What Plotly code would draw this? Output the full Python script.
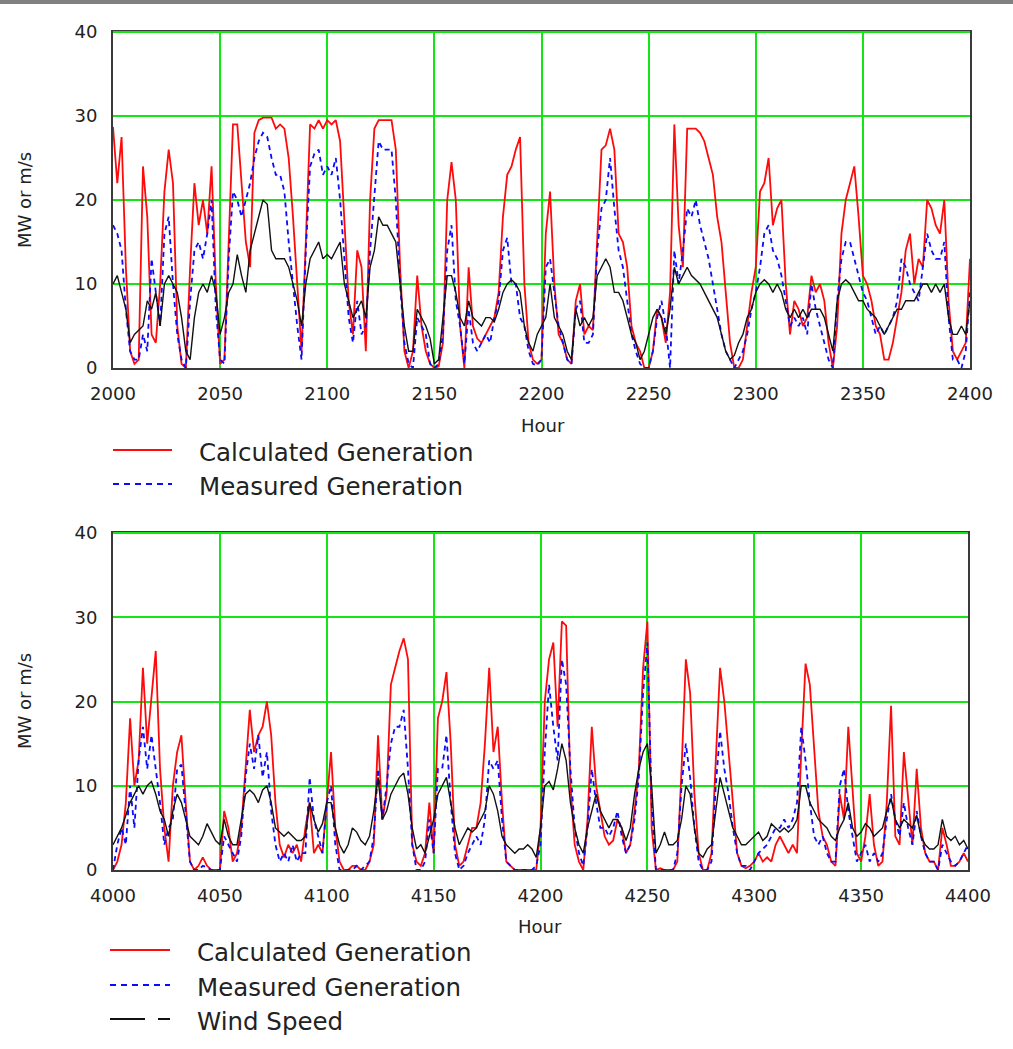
import plotly.graph_objects as go

W, H = 1013, 1049

# ---------------- data (2-hour resolution) ----------------
hours1 = list(range(2000, 2401, 2))
hours2 = list(range(4000, 4401, 2))

calc1 = [28.7, 22, 27.5, 12, 2, 0.5, 1, 24, 18, 4,
         3, 10, 21, 26, 22, 5, 0.5, 0, 12, 22,
         17, 20, 16, 24, 10, 0.5, 1, 15, 29, 29,
         22, 15, 12, 28, 29.5, 29.8, 29.8, 29.8, 28.5, 29,
         28.5, 25, 18, 10, 2, 15, 29, 28.5, 29.5, 28.5,
         29.5, 29, 29.5, 27, 17, 8, 4, 14, 12, 2,
         20, 28.5, 29.5, 29.5, 29.5, 29.5, 26, 12, 2, 0,
         2, 11, 5, 2, 0.5, 0, 0.2, 3, 20, 24.5,
         20, 5, 0, 12, 5, 3.5, 3, 4, 5, 6,
         9, 18, 23, 24, 26, 27.5, 10, 3, 1, 0.5,
         1, 16, 21, 10, 4, 3, 1, 0.5, 8, 10,
         4, 5, 4.5, 15, 26, 26.5, 28.5, 26, 16, 15,
         12, 5, 3, 2, 0, 0, 2, 7, 6, 3,
         9, 29, 17, 12, 28.5, 28.5, 28.5, 28, 27, 25,
         23, 18, 15, 9, 3, 0, 0, 1, 5, 9,
         12, 21, 22, 25, 17, 19, 20, 10, 4, 8,
         7, 5, 6, 11, 9, 10, 8, 3, 0, 5,
         16, 20, 22, 24, 18, 11, 10, 8, 5, 4,
         1, 1, 3, 6, 9, 14, 16, 10, 13, 12,
         20, 19, 17, 16, 20, 8, 2, 1, 2, 3,
         13]

meas1 = [17, 16, 14, 7, 2, 1, 1, 4, 2, 13,
         9, 5, 16, 18, 10, 4, 1, 0, 8, 14,
         15, 13, 16, 20, 7, 1, 0.5, 13, 21, 20,
         18, 20, 22, 25, 27, 28, 27.5, 25, 23, 23,
         21, 15, 10, 5, 1, 14, 24, 25.5, 26, 23,
         24, 23, 25, 20, 13, 6, 3, 8, 4, 5,
         14, 21, 27, 26, 26, 26, 20, 10, 3, 0.5,
         0, 6, 5, 4, 0.5, 0, 0.5, 4, 14, 17,
         8, 5, 0.5, 7, 3, 2, 3, 4, 3, 6,
         8, 14, 15.5, 10, 10, 6, 5, 2, 0.5, 0.3,
         1, 12, 13, 9, 5, 3, 1, 0.5, 7, 8,
         3, 3, 4, 14, 19, 20, 25, 19, 14, 12,
         8, 4, 2, 0.5, 0, 0, 2, 6, 8, 5,
         0, 14, 10, 14, 19, 18, 20, 17, 15, 13,
         10, 7, 4, 2, 1, 0, 1, 2, 4, 7,
         9, 12, 16, 17, 14, 13, 11, 8, 5, 6,
         5, 6, 4, 10, 7, 5, 3, 1, 0, 8,
         13, 15, 15, 13, 11, 9, 8, 6, 4, 5,
         4, 5, 6, 8, 13, 12, 10, 9, 8, 12,
         16, 14, 13, 13, 15, 6, 1, 1, 0, 2,
         9]

wind1 = [10, 11, 9, 7, 3, 4, 4.5, 5, 8, 7,
         9, 5, 10, 11, 10, 9, 6, 2, 1, 6,
         9, 10, 9, 11, 9, 4, 6, 9, 10, 13.5,
         11, 9, 14, 16, 18, 20, 19.5, 14, 13, 13,
         13, 12, 10, 8, 5, 10, 13, 14, 15, 13,
         13.5, 13, 14, 15, 10, 8, 6, 7, 8, 6,
         12, 14, 18, 17, 17, 16, 15, 10, 5, 2,
         2, 7, 6, 5, 3.5, 0.5, 1, 6, 11, 11,
         9, 6, 5, 8, 6, 5.5, 5, 6, 6, 5.5,
         7, 9, 10, 10.5, 10, 9, 5, 3, 2, 4,
         5, 6, 10, 6, 5, 4, 2, 1, 7, 5,
         6, 5, 6, 11, 12, 13, 12, 9, 9, 8,
         6, 4, 3, 1, 2, 4, 6, 7, 6, 4,
         7, 12, 10, 11, 12, 11, 10.5, 10, 9, 8,
         7, 6, 4, 2, 1, 1.5, 3, 4, 6, 7,
         9, 10, 10.5, 10, 9, 10, 9, 7, 6, 7,
         6, 7, 6, 7, 7, 7, 6, 4, 2, 8,
         10, 10.5, 10, 9, 8, 8, 7, 6.5, 6, 5,
         4, 5, 6, 7, 7, 8, 8, 8, 9, 10,
         10, 9, 10, 9, 10, 6, 4, 4, 5, 4,
         8]

calc2 = [0, 1, 3, 8, 18, 10, 13, 24, 15, 21,
         26, 12, 5, 1, 10, 14, 16, 8, 1, 0,
         0.5, 1.5, 0.5, 0, 0, 0, 7, 5, 1, 2,
         5, 12, 19, 14, 16, 17, 20, 16, 8, 3,
         1.5, 3, 2, 3, 1, 5, 8, 2, 3, 2,
         8, 14, 5, 1, 0, 0, 0.5, 0.5, 0, 0,
         1, 3, 16, 6, 9, 22, 24, 26, 27.5, 25,
         3, 1, 0.5, 2, 8, 2, 18, 20, 23.5, 15,
         3, 0.5, 1, 3, 5, 5, 8, 15, 24, 14,
         17, 8, 1, 0.5, 0, 0, 0, 0, 0, 0,
         5, 20, 25, 27, 17, 29.5, 29, 10, 3, 1,
         0, 6, 17, 10, 7, 4, 3, 3.5, 6, 5,
         2, 3, 7, 12, 24, 29.5, 5, 0, 0.2, 0,
         0, 0, 1, 12, 25, 21, 9, 2, 0, 0,
         2, 14, 24, 20, 14, 8, 2, 0.5, 0.2, 0.5,
         1, 2, 1, 1.5, 1, 3, 4, 3, 2, 3,
         2, 14, 24.5, 22, 15, 7, 4, 3, 1, 0.5,
         9, 6, 17, 10, 2, 1, 4, 9, 3, 0.5,
         1, 8, 19.5, 4, 3, 14, 8, 3, 12, 5,
         2, 1, 1, 0, 5, 3, 0.5, 0.5, 1, 2,
         1]

meas2 = [0, 3, 5, 3, 10, 5, 13, 17, 12, 16,
         12, 8, 3, 5, 6, 12, 12.5, 7, 1, 0,
         0, 0.5, 0.3, 0, 0, 0, 4, 3, 2, 1,
         4, 11, 15, 12, 16, 11, 14, 7, 3, 1,
         2, 1, 3, 1, 2, 2, 11, 6, 4, 2,
         8, 10, 3, 0, 0, 0, 0, 0.5, 0, 0.5,
         1, 4, 12, 6, 10, 15, 17, 17, 19, 12,
         3, 0, 0, 1, 6, 2, 12, 12, 16, 8,
         2, 0, 0.5, 2, 3, 4, 3, 6, 13, 12,
         13, 6, 1, 0.5, 0, 0, 0, 0, 0, 0.5,
         3, 14, 22, 17, 13, 25, 22, 12, 5, 2,
         0.5, 5, 12, 8, 5, 5, 4, 5, 7, 4,
         2, 3, 6, 11, 21, 27, 8, 0, 0, 0,
         0, 0, 2, 10, 15, 11, 5, 1, 0, 0,
         1, 10, 16.5, 12, 9, 5, 2, 0.5, 0.5, 0,
         1, 2, 2.5, 3, 4, 5, 5, 6, 5, 6,
         8, 17, 13, 8, 4, 3, 4, 2, 1, 1,
         10, 12, 7, 4, 1, 2, 3, 1, 2, 1,
         2, 6, 9, 6, 4, 8, 5, 3, 7, 4,
         2, 1, 1, 0, 3, 2, 1, 0.5, 1, 2,
         3]

wind2 = [3, 4, 5, 6.5, 8, 9, 10, 9, 10, 10.5,
         9, 7, 6, 4, 7, 9, 8, 6, 4, 3.5,
         3, 4, 5.5, 4.5, 3.5, 3, 6, 4, 3, 3,
         6, 9, 9.5, 9, 8, 9.5, 10, 8, 5, 4.5,
         4, 4.5, 4, 3.5, 3.5, 4, 8, 6, 4.5, 5.5,
         8, 8, 5, 3, 2, 3, 5, 4.5, 3.5, 3,
         4, 7, 11, 6, 7, 9, 10, 11, 11.5, 9,
         5, 2.5, 3, 2, 4, 6, 9, 10, 11, 8,
         5, 3, 4, 5, 4.5, 5, 6, 7, 10, 9,
         7, 4, 3, 2.5, 2, 2.5, 2.5, 3, 2.5, 1.5,
         5, 10, 10.5, 9.5, 12, 15, 13, 8, 5, 3,
         2, 5, 7, 9, 7, 6, 5, 6, 6, 5,
         3.5, 5, 9, 12, 14, 15, 10, 2, 3, 4.5,
         3, 3, 3.5, 6, 10, 9, 5, 2, 1.5, 2.5,
         3, 7, 11, 9, 7, 5, 4, 3, 3, 3.5,
         4, 4.5, 3.5, 4, 5.5, 5, 4.5, 5, 4.5, 5,
         6, 10, 10, 8, 7, 6, 5.5, 5, 4, 3.5,
         5, 6, 8, 5, 4, 4.5, 5.5, 5, 4, 4.5,
         5, 7, 8.5, 6, 5, 6, 5.5, 5, 6.5, 4,
         3, 2.5, 2.5, 3, 6, 4, 3.5, 4, 3, 3.5,
         2.5]

xticks1 = [2000, 2050, 2100, 2150, 2200, 2250, 2300, 2350, 2400]
xticks2 = [4000, 4050, 4100, 4150, 4200, 4250, 4300, 4350, 4400]
yticks = [0, 10, 20, 30, 40]

names = ["Calculated Generation", "Measured Generation", "Wind Speed"]

# ---------------- styling ----------------
RED = "#ff0a0a"
BLUE = "#0a0aff"
BLACK = "#111111"
GREEN = "#14e614"
FRAME = "#3a3a3a"
TXT = "#222222"
FONT = "DejaVu Sans"


def px(x):
    return x / W


def py(y):
    return 1 - y / H


fig = go.Figure()

panels = [("x", "y", hours1, calc1, meas1, wind1),
          ("x2", "y2", hours2, calc2, meas2, wind2)]
for xa, ya, hrs, c, m, w in panels:
    fig.add_trace(go.Scatter(x=hrs, y=c, mode="lines", name=names[0],
                             line=dict(color=RED, width=1.8),
                             xaxis=xa, yaxis=ya, showlegend=False))
    fig.add_trace(go.Scatter(x=hrs, y=m, mode="lines", name=names[1],
                             line=dict(color=BLUE, width=1.8, dash="5px,4px"),
                             xaxis=xa, yaxis=ya, showlegend=False))
    fig.add_trace(go.Scatter(x=hrs, y=w, mode="lines", name=names[2],
                             line=dict(color=BLACK, width=1.4),
                             xaxis=xa, yaxis=ya, showlegend=False))

axis_common = dict(showgrid=True, gridcolor=GREEN, gridwidth=2,
                   showline=True, mirror=True, linecolor=FRAME, linewidth=2,
                   zeroline=False, ticks="", fixedrange=True, automargin=False,
                   tickfont=dict(family=FONT, size=18, color=TXT))

fig.update_layout(
    width=W, height=H, autosize=False,
    margin=dict(l=0, r=0, t=0, b=0, pad=0, autoexpand=False),
    paper_bgcolor="white", plot_bgcolor="white",
    showlegend=False,
    xaxis=dict(domain=[px(113), px(970)], range=[2000, 2400], tickvals=xticks1,
               anchor="y", ticklabelstandoff=8, **axis_common),
    yaxis=dict(domain=[py(368), py(32)], range=[0, 40], tickvals=yticks,
               anchor="x", ticklabelstandoff=10, **axis_common),
    xaxis2=dict(domain=[px(113), px(968)], range=[4000, 4400], tickvals=xticks2,
                anchor="y2", ticklabelstandoff=8, **axis_common),
    yaxis2=dict(domain=[py(870), py(533)], range=[0, 40], tickvals=yticks,
                anchor="x2", ticklabelstandoff=10, **axis_common),
)

shapes = []
# gray strip at the very top of the image
shapes.append(dict(type="rect", xref="paper", yref="paper", x0=0, x1=1,
                   y0=py(4), y1=1, fillcolor="#808080", line=dict(width=0),
                   layer="above"))
# green top edge of each frame
for xa, ya in [("x", "y"), ("x2", "y2")]:
    shapes.append(dict(type="line", xref=xa + " domain", yref=ya + " domain",
                       x0=0, x1=1, y0=1, y1=1,
                       line=dict(color=GREEN, width=2), layer="above"))

annotations = []


def text(x, y, s, size=18, anchor="left", angle=0):
    annotations.append(dict(x=px(x), y=py(y), xref="paper", yref="paper",
                            text=s, showarrow=False, xanchor=anchor,
                            yanchor="middle", textangle=angle,
                            font=dict(family=FONT, size=size, color=TXT)))


# axis titles
text(24, 200, "MW or m/s", 18, "center", -90)
text(24, 701, "MW or m/s", 18, "center", -90)
text(543, 425, "Hour", 18, "center")
text(540, 926, "Hour", 18, "center")


def legend_line(x0, x1, y, color, dash="solid", width=2):
    shapes.append(dict(type="line", xref="paper", yref="paper",
                       x0=px(x0), x1=px(x1), y0=py(y), y1=py(y),
                       line=dict(color=color, width=width, dash=dash)))


# top legend
legend_line(113, 172, 450, RED)
legend_line(113, 172, 484, BLUE, "6px,5px")
text(197, 452, names[0], 24.5)
text(197, 486, names[1], 24.5)

# bottom legend
legend_line(110, 170, 950, RED)
legend_line(110, 170, 985, BLUE, "6px,5px")
legend_line(110, 145, 1019, BLACK)
legend_line(158, 170, 1019, BLACK)
text(195, 952, names[0], 24.5)
text(195, 987, names[1], 24.5)
text(195, 1021, names[2], 24.5)

fig.update_layout(shapes=shapes, annotations=annotations)

fig.write_html(
    "out.html",
    config={"displayModeBar": False},
    post_script="document.body.style.margin='0px';"
                "document.body.style.overflow='hidden';",
)
